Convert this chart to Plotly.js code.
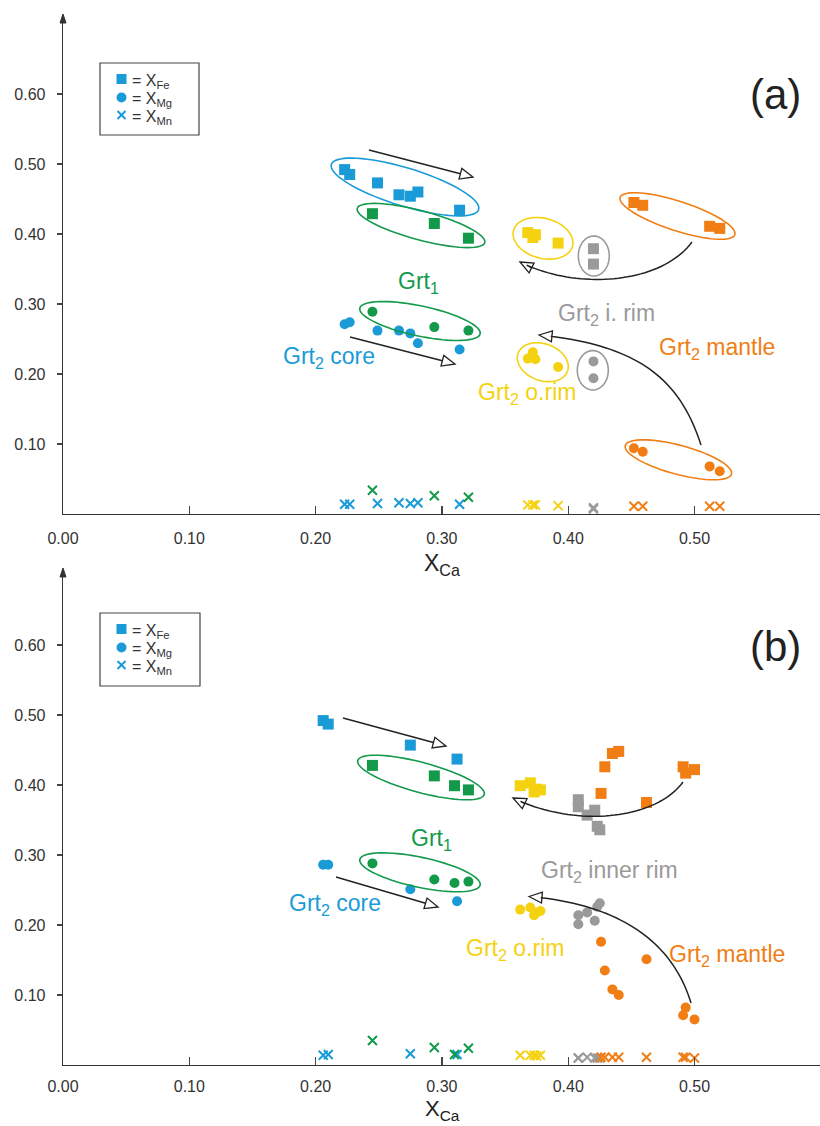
<!DOCTYPE html>
<html>
<head>
<meta charset="utf-8">
<script src="https://cdn.plot.ly/plotly-3.0.1.min.js"></script>
<style>html,body{margin:0;padding:0;background:#fff;}#chart{width:820px;height:1126px;}</style>
</head>
<body>
<div id="chart"></div>
<script>
// ---------------- DATA ----------------
// Panel (a)
const a_core_ca = [0.223, 0.227, 0.249, 0.266, 0.275, 0.281, 0.314];
const a_core_fe = [0.492, 0.485, 0.473, 0.456, 0.454, 0.460, 0.434];
const a_core_mg = [0.271, 0.274, 0.262, 0.262, 0.258, 0.244, 0.235];
const a_core_mn = [0.014, 0.014, 0.015, 0.016, 0.015, 0.016, 0.014];

const a_g1_ca = [0.245, 0.294, 0.321];
const a_g1_fe = [0.429, 0.415, 0.394];
const a_g1_mg = [0.289, 0.267, 0.262];
const a_g1_mn = [0.034, 0.026, 0.024];

const a_orim_ca = [0.368, 0.372, 0.374, 0.392];
const a_orim_fe = [0.402, 0.395, 0.399, 0.387];
const a_orim_mg = [0.222, 0.231, 0.221, 0.210];
const a_orim_mn = [0.013, 0.013, 0.013, 0.012];

const a_irim_ca = [0.420, 0.420];
const a_irim_fe = [0.379, 0.357];
const a_irim_mg = [0.218, 0.194];
const a_irim_mn = [0.009, 0.007];

const a_mant_ca = [0.452, 0.459, 0.512, 0.520];
const a_mant_fe = [0.445, 0.441, 0.411, 0.408];
const a_mant_mg = [0.094, 0.089, 0.068, 0.061];
const a_mant_mn = [0.011, 0.011, 0.011, 0.011];

// Panel (b)
const b_core_ca = [0.206, 0.210, 0.275, 0.312];
const b_core_fe = [0.492, 0.487, 0.457, 0.437];
const b_core_mg = [0.286, 0.286, 0.251, 0.234];
const b_core_mn = [0.014, 0.015, 0.016, 0.015];

const b_g1_ca = [0.245, 0.294, 0.310, 0.321];
const b_g1_fe = [0.428, 0.413, 0.399, 0.393];
const b_g1_mg = [0.288, 0.265, 0.260, 0.262];
const b_g1_mn = [0.035, 0.025, 0.015, 0.024];

const b_orim_ca = [0.362, 0.370, 0.375, 0.373, 0.378];
const b_orim_fe = [0.399, 0.403, 0.394, 0.390, 0.393];
const b_orim_mg = [0.222, 0.225, 0.218, 0.214, 0.220];
const b_orim_mn = [0.014, 0.014, 0.013, 0.014, 0.014];

const b_irim_ca = [0.408, 0.408, 0.421, 0.415, 0.423, 0.425];
const b_irim_fe = [0.379, 0.369, 0.364, 0.357, 0.341, 0.336];
const b_irim_mg = [0.214, 0.201, 0.206, 0.218, 0.226, 0.231];
const b_irim_mn = [0.010, 0.010, 0.010, 0.011, 0.010, 0.010];

const b_mant_ca = [0.426, 0.429, 0.435, 0.440, 0.462, 0.491, 0.493, 0.500];
const b_mant_fe = [0.388, 0.426, 0.445, 0.448, 0.375, 0.426, 0.417, 0.422];
const b_mant_mg = [0.176, 0.135, 0.108, 0.100, 0.151, 0.071, 0.082, 0.065];
const b_mant_mn = [0.011, 0.011, 0.011, 0.011, 0.011, 0.011, 0.011, 0.010];

const xTickVals = [0, 0.1, 0.2, 0.3, 0.4, 0.5];
const yTickVals = [0.1, 0.2, 0.3, 0.4, 0.5, 0.6];

// ---------------- STYLE ----------------
const C = {core:'#1A9BD7', g1:'#129A4A', orim:'#F5D210', irim:'#9A9A9A', mant:'#F07E14'};
const FONT = 'Liberation Sans, Arial, sans-serif';
const W = 820, H = 1126, L = 63;

function groupTraces(ca, fe, mg, mn, color, xa, ya) {
  return [
    {x: ca, y: fe, type:'scatter', mode:'markers', xaxis:xa, yaxis:ya, hoverinfo:'skip',
     marker:{symbol:'square', size:11, color:color}},
    {x: ca, y: mg, type:'scatter', mode:'markers', xaxis:xa, yaxis:ya, hoverinfo:'skip',
     marker:{symbol:'circle', size:10, color:color}},
    {x: ca, y: mn, type:'scatter', mode:'markers', xaxis:xa, yaxis:ya, hoverinfo:'skip',
     marker:{symbol:'x-thin', size:9, color:color, line:{color:color, width:2}}}
  ];
}

const data = [].concat(
  groupTraces(a_core_ca, a_core_fe, a_core_mg, a_core_mn, C.core, 'x', 'y'),
  groupTraces(a_g1_ca, a_g1_fe, a_g1_mg, a_g1_mn, C.g1, 'x', 'y'),
  groupTraces(a_orim_ca, a_orim_fe, a_orim_mg, a_orim_mn, C.orim, 'x', 'y'),
  groupTraces(a_irim_ca, a_irim_fe, a_irim_mg, a_irim_mn, C.irim, 'x', 'y'),
  groupTraces(a_mant_ca, a_mant_fe, a_mant_mg, a_mant_mn, C.mant, 'x', 'y'),
  groupTraces(b_core_ca, b_core_fe, b_core_mg, b_core_mn, C.core, 'x2', 'y2'),
  groupTraces(b_g1_ca, b_g1_fe, b_g1_mg, b_g1_mn, C.g1, 'x2', 'y2'),
  groupTraces(b_orim_ca, b_orim_fe, b_orim_mg, b_orim_mn, C.orim, 'x2', 'y2'),
  groupTraces(b_irim_ca, b_irim_fe, b_irim_mg, b_irim_mn, C.irim, 'x2', 'y2'),
  groupTraces(b_mant_ca, b_mant_fe, b_mant_mg, b_mant_mn, C.mant, 'x2', 'y2')
);

// ---------------- DECORATION HELPERS (pixel -> paper) ----------------
const PX = px => (px - L) / (W - L);
const PY = py => 1 - py / H;
function pathFromPts(pts, close) {
  return pts.map((p, i) => (i ? 'L' : 'M') + PX(p[0]).toFixed(5) + ',' + PY(p[1]).toFixed(5)).join(' ') + (close ? ' Z' : '');
}
const shapes = [];
const annotations = [];

function ellipse(cx, cy, a, b, deg, color) {
  const th = deg * Math.PI / 180, pts = [];
  for (let i = 0; i < 72; i++) {
    const t = i / 72 * 2 * Math.PI;
    pts.push([cx + a*Math.cos(t)*Math.cos(th) - b*Math.sin(t)*Math.sin(th),
              cy + a*Math.cos(t)*Math.sin(th) + b*Math.sin(t)*Math.cos(th)]);
  }
  shapes.push({type:'path', xref:'paper', yref:'paper', path: pathFromPts(pts, true),
               line:{color:color, width:1.6}, fillcolor:'rgba(0,0,0,0)'});
}
function head(tip, dir) {
  const len = Math.hypot(dir[0], dir[1]); const d = [dir[0]/len, dir[1]/len]; const n = [-d[1], d[0]];
  const Lh = 13, Wh = 5.5;
  const B = [tip[0] - Lh*d[0], tip[1] - Lh*d[1]];
  shapes.push({type:'path', xref:'paper', yref:'paper',
    path: pathFromPts([tip, [B[0]+Wh*n[0], B[1]+Wh*n[1]], [B[0]-Wh*n[0], B[1]-Wh*n[1]]], true),
    line:{color:'#222', width:1.3}, fillcolor:'#ffffff'});
  return B;
}
function straightArrow(S, T) {
  const B = head(T, [T[0]-S[0], T[1]-S[1]]);
  shapes.push({type:'path', xref:'paper', yref:'paper', path: pathFromPts([S, B], false),
               line:{color:'#222', width:1.5}});
}
function curvedArrow(P0, P1, P2, P3) {
  const pts = [];
  const bez = t => [0,1].map(k => Math.pow(1-t,3)*P0[k] + 3*Math.pow(1-t,2)*t*P1[k] + 3*(1-t)*t*t*P2[k] + t*t*t*P3[k]);
  const dir = [P3[0]-P2[0], P3[1]-P2[1]];
  const B = head(P3, dir);
  for (let i = 0; i <= 40; i++) pts.push(bez(i/40 * 0.96));
  pts.push(B);
  shapes.push({type:'path', xref:'paper', yref:'paper', path: pathFromPts(pts, false),
               line:{color:'#222', width:1.5}});
}
function axisArrow(px, py) {
  shapes.push({type:'path', xref:'paper', yref:'paper',
    path: pathFromPts([[px, py], [px-3, py+9], [px+3, py+9]], true),
    line:{color:'#333', width:1}, fillcolor:'#333'});
}
function label(text, px, py, color, size) {
  annotations.push({text:text, x:PX(px), y:PY(py), xref:'paper', yref:'paper', showarrow:false,
    xanchor:'center', yanchor:'middle', font:{family:FONT, size:size, color:color}});
}
function legendBox(x0, y0, x1, y1) {
  shapes.push({type:'rect', xref:'paper', yref:'paper', x0:PX(x0), x1:PX(x1), y0:PY(y1), y1:PY(y0),
               line:{color:'#444', width:1.2}, fillcolor:'#fff'});
  const mx = x0 + 21.5, r1 = y0 + 16, r2 = y0 + 34.5, r3 = y0 + 52;
  shapes.push({type:'rect', xref:'paper', yref:'paper', x0:PX(mx-5), x1:PX(mx+5), y0:PY(r1+5), y1:PY(r1-5),
               line:{width:0}, fillcolor:C.core});
  shapes.push({type:'circle', xref:'paper', yref:'paper', x0:PX(mx-5), x1:PX(mx+5), y0:PY(r2+5), y1:PY(r2-5),
               line:{width:0}, fillcolor:C.core});
  shapes.push({type:'line', xref:'paper', yref:'paper', x0:PX(mx-4), x1:PX(mx+4), y0:PY(r3+4), y1:PY(r3-4), line:{color:C.core, width:2}});
  shapes.push({type:'line', xref:'paper', yref:'paper', x0:PX(mx-4), x1:PX(mx+4), y0:PY(r3-4), y1:PY(r3+4), line:{color:C.core, width:2}});
  [['= X<sub>Fe</sub>', r1], ['= X<sub>Mg</sub>', r2], ['= X<sub>Mn</sub>', r3]].forEach(([t, r]) => {
    annotations.push({text:t, x:PX(mx+8), y:PY(r+2), xref:'paper', yref:'paper', showarrow:false,
      xanchor:'left', yanchor:'middle', font:{family:FONT, size:16, color:'#333'}});
  });
}

// ---------------- PANEL (a) decorations ----------------
ellipse(405, 187, 77, 19, 17, C.core);
ellipse(421, 225.5, 66, 14.5, 15, C.g1);
ellipse(420, 321, 61.5, 15, 12, C.g1);
ellipse(543, 238.3, 30.5, 20, 15, C.orim);
ellipse(593.8, 256, 15.5, 20, 0, C.irim);
ellipse(677.5, 216, 60.3, 14.7, 18, C.mant);
ellipse(542.8, 362.2, 26.3, 18.4, 20, C.orim);
ellipse(592.8, 370.3, 15.5, 19.7, 0, C.irim);
ellipse(678.4, 459.8, 55, 14.5, 15, C.mant);

straightArrow([369, 150], [473, 177]);
straightArrow([350, 337], [455, 364]);
curvedArrow([692, 242], [660, 285], [575, 290], [520, 262]);
curvedArrow([701, 445], [680, 380], [640, 345], [539, 335]);

label('Grt<sub>1</sub>', 418, 283, C.g1, 23);
label('Grt<sub>2</sub> core', 329, 357, C.core, 23);
label('Grt<sub>2</sub> i. rim', 606, 315, C.irim, 23);
label('Grt<sub>2</sub> mantle', 717, 348, C.mant, 23);
label('Grt<sub>2</sub> o.rim', 527, 393, C.orim, 23);
label('(a)', 775, 95, '#222', 42);
label('X<sub>Ca</sub>', 442, 564, '#222', 23);
legendBox(100, 63, 199, 135);
axisArrow(63, 14);

// ---------------- PANEL (b) decorations ----------------
ellipse(421, 777.5, 65.5, 15, 15, C.g1);
ellipse(420, 872.3, 61.5, 15, 12, C.g1);

straightArrow([343, 718], [446, 746]);
straightArrow([336, 877], [438, 907]);
curvedArrow([683, 782], [655, 820], [575, 828], [513, 798]);
curvedArrow([691, 1003], [675, 950], [630, 905], [529, 896.5]);

label('Grt<sub>1</sub>', 431, 839, C.g1, 23);
label('Grt<sub>2</sub> core', 335, 904, C.core, 23);
label('Grt<sub>2</sub> inner rim', 609, 871, C.irim, 23);
label('Grt<sub>2</sub> o.rim', 515, 949, C.orim, 23);
label('Grt<sub>2</sub> mantle', 727, 955, C.mant, 23);
label('(b)', 775, 646, '#222', 42);
label('X<sub>Ca</sub>', 442, 1110, '#222', 22);
legendBox(100, 613, 200, 686);
axisArrow(63, 568);

// ---------------- AXES ----------------
const xRange = [0, (W - L) / 1263];
function xAxis(anchor, standoff) {
  return {domain:[0,1], anchor:anchor, range:xRange, showgrid:false, zeroline:false,
    showline:true, linecolor:'#333', linewidth:1.3, ticks:'inside', ticklen:8, tickwidth:1.2, tickcolor:'#444',
    tickvals:xTickVals, tickformat:'.2f', ticklabelstandoff:standoff,
    tickfont:{family:FONT, size:16, color:'#333'}};
}
function yAxis(anchor, dom, top) {
  return {domain:dom, anchor:anchor, range:[0, top], showgrid:false, zeroline:false,
    showline:true, linecolor:'#333', linewidth:1.3, ticks:'outside', ticklen:5, tickwidth:1.2, tickcolor:'#444',
    tickvals:yTickVals, tickformat:'.2f', ticklabelstandoff:8,
    tickfont:{family:FONT, size:16, color:'#333'}};
}

const layout = {
  width:W, height:H, margin:{l:L, r:0, t:0, b:0},
  paper_bgcolor:'#ffffff', plot_bgcolor:'rgba(0,0,0,0)',
  showlegend:false,
  xaxis: xAxis('y', 9),
  yaxis: yAxis('x', [1 - 514/H, 1 - 15/H], (514 - 15) / 700),
  xaxis2: xAxis('y2', 6),
  yaxis2: yAxis('x2', [1 - 1065/H, 1 - 569/H], (1065 - 569) / 700),
  shapes: shapes,
  annotations: annotations
};

Plotly.newPlot('chart', data, layout, {staticPlot:true, displayModeBar:false});
</script>
</body>
</html>
